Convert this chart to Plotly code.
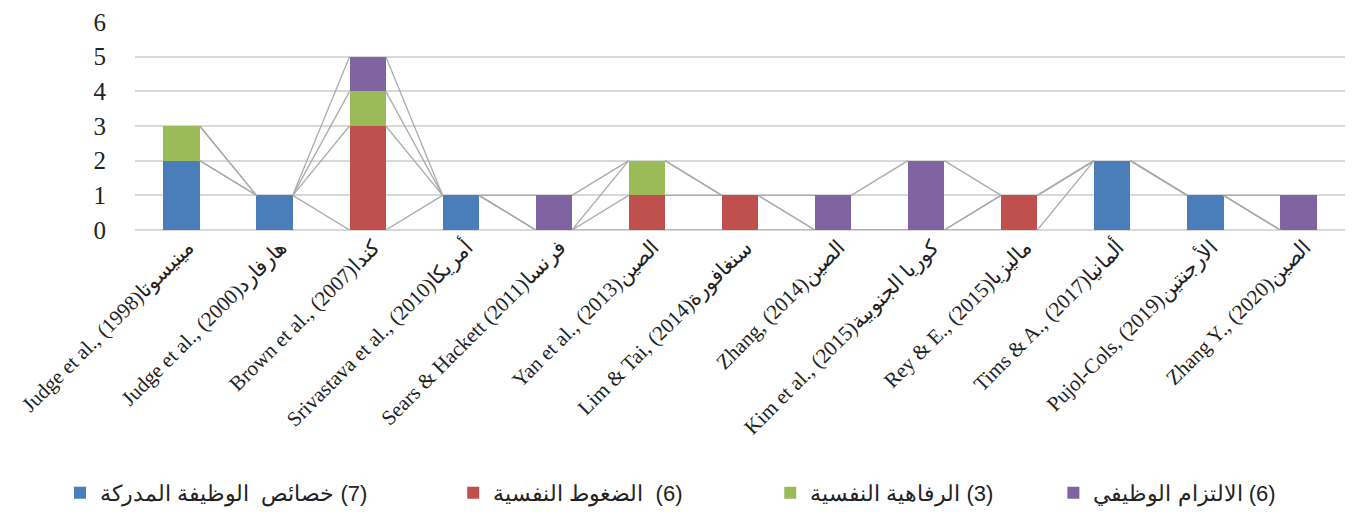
import plotly.graph_objects as go

categories = [
    "Judge et al., (1998)مينيسوتا",
    "Judge et al., (2000)هارفارد",
    "Brown et al., (2007)كندا",
    "Srivastava et al., (2010)أمريكا",
    "Sears & Hackett (2011)فرنسا",
    "Yan et al., (2013)الصين",
    "Lim & Tai, (2014)سنغافورة",
    "Zhang, (2014)الصين",
    "Kim et al., (2015)كوريا الجنوبية",
    "Rey & E., (2015)ماليزيا",
    "Tims & A., (2017)ألمانيا",
    "Pujol-Cols, (2019)الأرجنتين",
    "Zhang Y., (2020)الصين",
]

LRM = "\u200e"
series_names = [
    "خصائص  الوظيفة المدركة " + LRM + "(7)",
    "الضغوط النفسية  " + LRM + "(6)",
    "الرفاهية النفسية " + LRM + "(3)",
    "الالتزام الوظيفي " + LRM + "(6)",
]
characteristics = [2, 1, 0, 1, 0, 0, 0, 0, 0, 0, 2, 1, 0]
stress = [0, 0, 3, 0, 0, 1, 1, 0, 0, 1, 0, 0, 0]
wellbeing = [1, 0, 1, 0, 0, 1, 0, 0, 0, 0, 0, 0, 0]
engagement = [0, 0, 1, 0, 1, 0, 0, 1, 2, 0, 0, 0, 1]
colors = ["#4A7EBB", "#C0504D", "#9BBB59", "#8064A2"]
legend_x = [-0.062, 0.263, 0.525, 0.759]

series_values = [characteristics, stress, wellbeing, engagement]
x = list(range(len(categories)))
bar_w = 0.39

fig = go.Figure()

# series lines (Excel-style) connecting cumulative tops
cum = [0] * len(categories)
line_x, line_y = [], []
for vals in series_values:
    cum = [c + v for c, v in zip(cum, vals)]
    for i in range(len(categories) - 1):
        line_x += [x[i] + bar_w / 2, x[i + 1] - bar_w / 2, None]
        line_y += [cum[i], cum[i + 1], None]
fig.add_trace(go.Scatter(x=line_x, y=line_y, mode="lines",
                         line=dict(color="#ABABAB", width=1.3),
                         showlegend=False, hoverinfo="skip"))

legend_font = dict(family="Liberation Sans, Arial", size=22, color="#222")
layout_legends = {}
for k, (name, vals, col, lx) in enumerate(zip(series_names, series_values, colors, legend_x)):
    key = "legend" if k == 0 else f"legend{k + 1}"
    fig.add_trace(go.Bar(x=x, y=vals, name=name, marker_color=col,
                         marker_line_width=0, width=bar_w, legend=key))
    layout_legends[key] = dict(x=lx, xanchor="left", y=-1.264, yanchor="middle",
                               font=legend_font, bgcolor="rgba(0,0,0,0)")

fig.update_layout(
    barmode="stack",
    width=1360, height=518,
    margin=dict(l=127, r=23, t=14, b=296, autoexpand=False),
    plot_bgcolor="white", paper_bgcolor="white",
    font=dict(family="Liberation Serif, Times New Roman", color="#222"),
    **layout_legends,
)
fig.update_xaxes(tickmode="array", tickvals=x, ticktext=categories, tickangle=-45,
                 range=[-0.5, len(categories) - 0.5], showgrid=False,
                 showline=False, zeroline=False, automargin=False, ticklabelshift=6,
                 tickfont=dict(family="Liberation Serif, Times New Roman", size=21, color="#222"))
fig.update_yaxes(range=[0, 6], dtick=1, showgrid=True, gridcolor="#D9D9D9", gridwidth=1.5,
                 zeroline=True, zerolinecolor="#D9D9D9", zerolinewidth=1.5,
                 ticklabelstandoff=28, automargin=False,
                 tickfont=dict(family="Liberation Serif, Times New Roman", size=25, color="#222"))

fig.write_html("out.html")
